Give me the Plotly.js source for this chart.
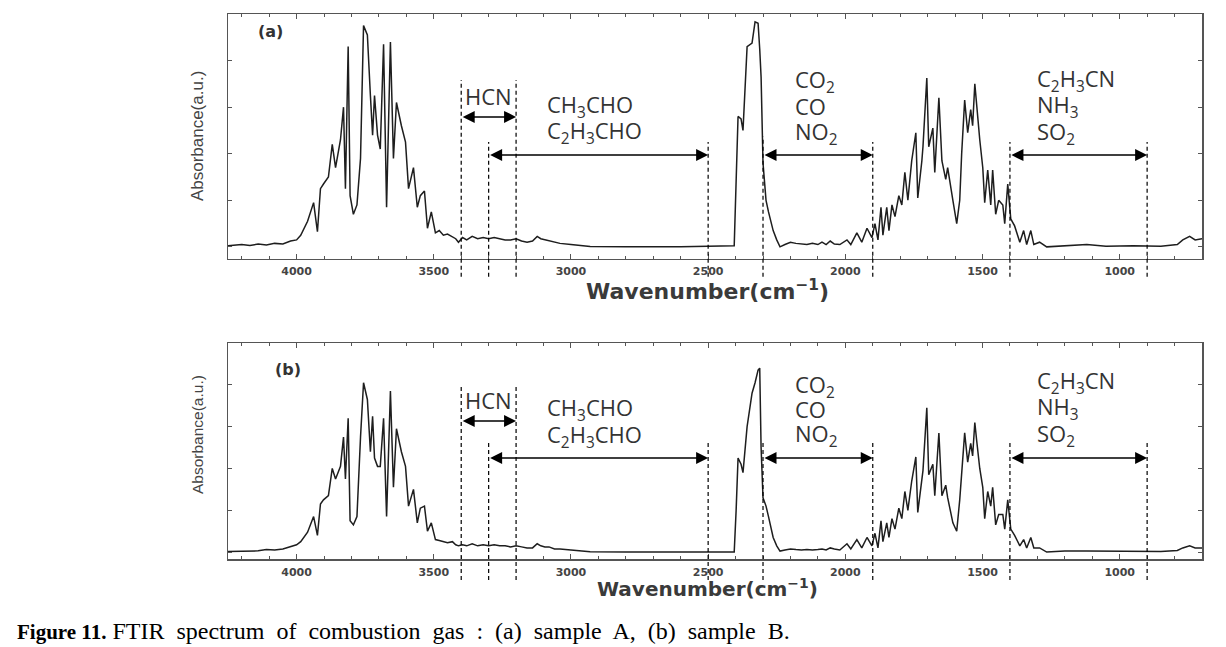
<!DOCTYPE html>
<html><head><meta charset="utf-8">
<script src="https://cdn.plot.ly/plotly-3.0.1.min.js"></script>
<style>html,body{margin:0;padding:0;background:#fff}#chart{width:1226px;height:647px}</style>
</head><body><div id="chart"></div>
<script>
// ---- data ----
const wavenumber = [
 4250,4200,4170,4140,4110,4080,4050,4022,4000,3985,
 3960,3938,3924,3913,3902,3884,3870,3858,3840,3829,
 3822,3812,3805,3793,3780,3767,3756,3742,3731,3723,
 3716,3705,3695,3683,3672,3665,3658,3647,3636,3618,
 3603,3592,3574,3560,3549,3534,3523,3509,3494,3480,
 3465,3450,3432,3420,3410,3395,3380,3360,3340,3320,
 3300,3280,3260,3240,3220,3200,3180,3160,3140,3123,
 3110,3095,3080,3060,3040,3000,2960,2930,2800,2600,
 2405,2398,2391,2380,2373,2358,2340,2329,2318,2312,
 2307,2300,2289,2280,2263,2250,2238,2220,2200,2180,
 2160,2140,2120,2100,2085,2070,2055,2040,2020,1994,
 1980,1958,1940,1921,1903,1892,1881,1870,1863,1849,
 1841,1830,1819,1805,1794,1783,1772,1758,1743,1736,
 1721,1717,1703,1696,1681,1674,1659,1648,1634,1627,
 1608,1594,1583,1576,1565,1554,1543,1536,1528,1521,
 1510,1499,1492,1481,1470,1463,1452,1441,1426,1419,
 1408,1397,1383,1364,1350,1339,1324,1313,1292,1266,
 1200,1120,1050,950,850,790,770,745,725,700];
const absorbanceA = [
 0.005,0.01,0.006,0.012,0.008,0.015,0.012,0.025,0.03,0.05,
 0.11,0.19,0.065,0.25,0.27,0.30,0.44,0.34,0.46,0.60,
 0.25,0.86,0.22,0.14,0.18,0.38,0.95,0.91,0.65,0.48,
 0.65,0.48,0.42,0.87,0.17,0.52,0.88,0.38,0.62,0.52,
 0.45,0.25,0.34,0.17,0.22,0.24,0.08,0.15,0.06,0.07,
 0.05,0.055,0.045,0.035,0.02,0.04,0.03,0.045,0.035,0.04,
 0.035,0.04,0.035,0.03,0.03,0.035,0.025,0.02,0.025,0.045,
 0.035,0.03,0.025,0.02,0.015,0.01,0.005,0.002,0,0,
 0.005,0.3,0.56,0.55,0.50,0.86,0.875,0.966,0.96,0.85,
 0.73,0.36,0.20,0.15,0.07,0.03,0.0,0.01,0.02,0.015,
 0.012,0.01,0.015,0.01,0.02,0.01,0.025,0.012,0.01,0.03,
 0.01,0.06,0.02,0.08,0.04,0.10,0.03,0.17,0.05,0.17,
 0.07,0.18,0.13,0.22,0.18,0.32,0.20,0.37,0.49,0.21,
 0.37,0.43,0.725,0.43,0.51,0.32,0.64,0.37,0.29,0.34,
 0.20,0.10,0.20,0.40,0.63,0.49,0.59,0.52,0.70,0.59,
 0.46,0.34,0.19,0.33,0.18,0.33,0.14,0.20,0.18,0.10,
 0.27,0.12,0.09,0.02,0.07,0.01,0.07,0.01,0.02,0.0,
 0.005,0.01,0.003,0.005,0.003,0.01,0.03,0.045,0.03,0.035];
const absorbanceB = [
 0.003,0.005,0.008,0.006,0.012,0.01,0.015,0.025,0.035,0.05,
 0.095,0.17,0.08,0.23,0.25,0.27,0.40,0.35,0.41,0.55,
 0.35,0.64,0.15,0.13,0.17,0.55,0.81,0.73,0.48,0.65,
 0.45,0.41,0.41,0.64,0.17,0.47,0.77,0.31,0.59,0.48,
 0.41,0.22,0.30,0.14,0.21,0.22,0.10,0.14,0.06,0.055,
 0.05,0.045,0.05,0.035,0.03,0.035,0.03,0.04,0.03,0.035,
 0.03,0.035,0.03,0.03,0.025,0.03,0.025,0.02,0.02,0.04,
 0.03,0.025,0.025,0.015,0.015,0.01,0.005,0.002,0,0,
 0.0,0.2,0.45,0.42,0.38,0.60,0.76,0.81,0.87,0.88,
 0.50,0.26,0.22,0.17,0.07,0.03,0.005,0.01,0.015,0.012,
 0.01,0.012,0.01,0.012,0.015,0.01,0.02,0.015,0.01,0.04,
 0.015,0.06,0.02,0.07,0.03,0.09,0.02,0.15,0.05,0.14,
 0.07,0.16,0.11,0.21,0.16,0.29,0.20,0.34,0.455,0.19,
 0.34,0.39,0.69,0.37,0.42,0.27,0.57,0.27,0.32,0.26,
 0.14,0.10,0.25,0.36,0.57,0.43,0.52,0.46,0.62,0.53,
 0.40,0.31,0.16,0.29,0.22,0.31,0.13,0.18,0.18,0.11,
 0.25,0.11,0.08,0.03,0.06,0.02,0.07,0.02,0.02,0.0,
 0.005,0.005,0.004,0.002,0.003,0.008,0.02,0.03,0.02,0.02];

const xTickVals = [4000, 3500, 3000, 2500, 2000, 1500, 1000];
const xTickText = ['4000', '3500', '3000', '2500', '2000', '1500', '1000'];

// absorption regions: start / end wavenumber and gas labels (one list of lines per region)
const regionStart = [3400, 3300, 2300, 1400];
const regionEnd   = [3200, 2500, 1900, 900];
const regionLabels = [
 ['HCN'],
 ['CH<sub>3</sub>CHO', 'C<sub>2</sub>H<sub>3</sub>CHO'],
 ['CO<sub>2</sub>', 'CO', 'NO<sub>2</sub>'],
 ['C<sub>2</sub>H<sub>3</sub>CN', 'NH<sub>3</sub>', 'SO<sub>2</sub>']];
const regionLabelX = [3392, 3094, 2191, 1310];
const panelTags = ['(a)', '(b)'];
const seriesNames = ['sample A', 'sample B'];
const yTitle = 'Absorbance(a.u.)';
const xTitle = 'Wavenumber(cm<sup>\u22121</sup>)';
const caption = '<span style="font-size:21px"><b>Figure 11.</b></span> FTIR\u00a0 spectrum\u00a0 of\u00a0 combustion\u00a0 gas\u00a0 :\u00a0 (a)\u00a0 sample\u00a0 A,\u00a0 (b)\u00a0 sample\u00a0 B.';

// ---- layout geometry (style only) ----
const panels = [
 {xa:'x', ya:'y', dom:[0.5505, 1], yr:[-0.052, 1], data:absorbanceA, tagPos:[0.0441, 0.967],
  lineTop:[0.731,0.478,0.731,0.478,0.50,0.478,0.478,0.478], lineBot:-0.073,
  arrowY:[0.580,0.424,0.424,0.424],
  labelY:[[0.665],[0.624,0.518],[0.727,0.624,0.514],[0.731,0.624,0.514]],
  yTitleY:0.776, yTitleSize:17, xTitleY:0.4936, xTitleSize:22, standoff:1},
 {xa:'x2', ya:'y2', dom:[0, 0.3963], yr:[-0.033, 1], data:absorbanceB, tagPos:[0.0616, 0.3486],
  lineTop:[0.801,0.537,0.801,0.537,0.55,0.537,0.537,0.537], lineBot:-0.097,
  arrowY:[0.639,0.468,0.468,0.468],
  labelY:[[0.736],[0.694,0.569],[0.800,0.694,0.574],[0.819,0.699,0.574]],
  yTitleY:0.2275, yTitleSize:15.5, xTitleY:-0.0532, xTitleSize:20, standoff:2}
];

const boundaries = Array.from(new Set(regionStart.concat(regionEnd))).sort((a, b) => b - a);

const axisColor = '#555';
const traces = [];
const shapes = [];
const annotations = [];
const layout = {
 width: 1226, height: 647,
 margin: {l: 228, r: 24, t: 14, b: 88},
 paper_bgcolor: '#fff', plot_bgcolor: '#fff',
 showlegend: false
};

panels.forEach((p, k) => {
 const xKey = p.xa === 'x' ? 'xaxis' : 'xaxis2';
 const yKey = p.ya === 'y' ? 'yaxis' : 'yaxis2';
 traces.push({
  type: 'scatter', mode: 'lines', name: seriesNames[k],
  x: wavenumber, y: p.data, xaxis: p.xa, yaxis: p.ya,
  line: {color: '#1e1e1e', width: 1.5}, hoverinfo: 'skip'
 });
 layout[xKey] = {
  anchor: p.ya, domain: [0, 1], range: [4250, 700],
  showline: true, linecolor: axisColor, linewidth: 1.5, mirror: 'allticks',
  ticks: 'inside', ticklen: 5, tickwidth: 1, tickcolor: axisColor,
  tickmode: 'array', tickvals: xTickVals, ticktext: xTickText,
  tickfont: {family: 'DejaVu Sans', size: 11, color: '#444', weight: 'bold'},
  ticklabelstandoff: p.standoff,
  minor: {tickmode: 'linear', tick0: 0, dtick: 100, ticks: 'inside', ticklen: 3, tickcolor: axisColor, showgrid: false},
  showgrid: false, zeroline: false
 };
 layout[yKey] = {
  anchor: p.xa, domain: p.dom, range: p.yr,
  showline: true, linecolor: axisColor, linewidth: 1.5, mirror: 'ticks',
  ticks: 'inside', ticklen: 4, tickcolor: axisColor, tick0: 0, dtick: 0.2,
  showticklabels: false, showgrid: false, zeroline: false
 };
 // dashed boundary lines
 boundaries.forEach((b, i) => {
  shapes.push({type: 'line', xref: p.xa, yref: p.ya + ' domain', x0: b, x1: b,
   y0: p.lineBot, y1: p.lineTop[i], line: {color: '#000', width: 1.2, dash: '4px,3px'}});
 });
 // double-headed arrows and labels
 regionStart.forEach((s, i) => {
  annotations.push({xref: p.xa, yref: p.ya + ' domain', x: regionEnd[i], y: p.arrowY[i],
   axref: p.xa, ayref: p.ya + ' domain', ax: s, ay: p.arrowY[i], text: '', showarrow: true,
   arrowhead: 2, startarrowhead: 2, arrowside: 'end+start', arrowsize: 1.6, startarrowsize: 1.6,
   arrowwidth: 1.5, arrowcolor: '#000', standoff: 0, startstandoff: 0});
  regionLabels[i].forEach((line, j) => {
   annotations.push({xref: p.xa, yref: p.ya + ' domain', x: regionLabelX[i], y: p.labelY[i][j],
    xanchor: 'left', yanchor: 'middle', align: 'left', showarrow: false, text: line,
    font: {family: 'Open Sans', size: 22, color: '#333'}});
  });
 });
 // panel tag
 annotations.push({xref: 'paper', yref: 'paper', x: p.tagPos[0], y: p.tagPos[1],
  xanchor: 'center', yanchor: 'middle', showarrow: false,
  text: panelTags[k], font: {family: 'DejaVu Sans', size: 16, color: '#333', weight: 'bold'}});
 // axis titles
 annotations.push({xref: 'paper', yref: 'paper', x: -0.0318, y: p.yTitleY, textangle: -90,
  xanchor: 'center', yanchor: 'middle', showarrow: false,
  text: yTitle, font: {family: 'Liberation Sans Narrow, Arial Narrow, Liberation Sans', size: p.yTitleSize, color: '#444'}});
 annotations.push({xref: 'paper', yref: 'paper', x: 0.4918, y: p.xTitleY,
  xanchor: 'center', yanchor: 'middle', showarrow: false,
  text: xTitle, font: {family: 'DejaVu Sans', size: p.xTitleSize, color: '#3a3a3a', weight: 'bold'}});
});

annotations.push({xref: 'paper', yref: 'paper', x: -0.2187, y: -0.1321, xanchor: 'left', yanchor: 'middle',
 showarrow: false, text: caption, font: {family: 'Liberation Serif', size: 24, color: '#000'}});

layout.shapes = shapes;
layout.annotations = annotations;

Plotly.newPlot('chart', traces, layout, {displayModeBar: false, staticPlot: true});
</script></body></html>
